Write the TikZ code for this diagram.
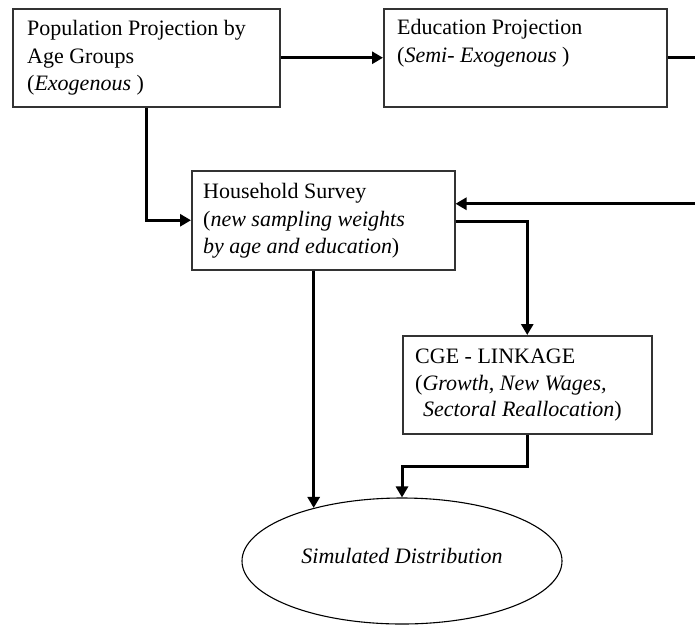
\documentclass[tikz,border=0pt]{standalone}
\usepackage{fontspec}
\setmainfont{Liberation Serif}
\usetikzlibrary{arrows.meta,shapes.geometric,calc}
\definecolor{boxline}{HTML}{333333}
\tikzset{
  boxnode/.style={draw=boxline,line width=1.5pt,rectangle,anchor=north west,inner sep=0pt,fill=white},
  ovalnode/.style={draw=black,line width=1.1pt,ellipse,inner sep=0pt,minimum width=320pt,minimum height=126pt},
  txt/.style={anchor=base west,inner sep=0pt,font=\fontsize{22pt}{27pt}\selectfont},
  arr/.style={draw=black,line width=3pt,-{Triangle[length=11pt,width=12pt]}},
}
\begin{document}
\begin{tikzpicture}[x=1pt,y=-1pt]
\useasboundingbox (0,0) rectangle (695,627);
\clip (0,0) rectangle (695,627);
% boxes
\node[boxnode,minimum width=267pt,minimum height=98pt] (A) at (12,8) {};
\node[boxnode,minimum width=283pt,minimum height=98pt] (B) at (383,8) {};
\node[boxnode,minimum width=263pt,minimum height=99pt] (C) at (191,170) {};
\node[boxnode,minimum width=249pt,minimum height=98pt] (D) at (402,335) {};
\node[ovalnode] (E) at (402,561) {};
% texts
\node[txt] (a1) at (27,35) {Population Projection by};
\node[txt] (a2) at (27,63) {Age Groups};
\node[txt] (a3) at (27,90) {(\textit{Exogenous} )};
\node[txt] (b1) at (397,34) {Education Projection};
\node[txt] (b2) at (397,62) {(\textit{Semi- Exogenous} )};
\node[txt] (c1) at (203,198) {Household Survey};
\node[txt] (c2) at (203,226) {(\textit{new sampling weights}};
\node[txt] (c3) at (203,253) {\textit{by age and education})};
\node[txt] (d1) at (415,363) {CGE - LINKAGE};
\node[txt] (d2) at (415,390) {(\textit{Growth, New Wages,}};
\node[txt] (d3) at (423,416) {\textit{Sectoral Reallocation})};
\node[txt,anchor=base] (e1) at (402,563) {\textit{Simulated Distribution}};
% connectors
\draw[arr] (A.east) -- (B.west);
\draw[arr] (B.east) -- ++(50,0) |- ([yshift=16.5pt]C.east);
\draw[arr] (A.south) |- (C.west);
\draw[arr] ([yshift=-1.5pt]C.east) -| (D.north);
\draw[arr] (E.149.7 |- C.south) -- (E.149.7);
\draw[arr] (D.south) -- ++(0,32) -| (E.north);
\end{tikzpicture}
\end{document}
